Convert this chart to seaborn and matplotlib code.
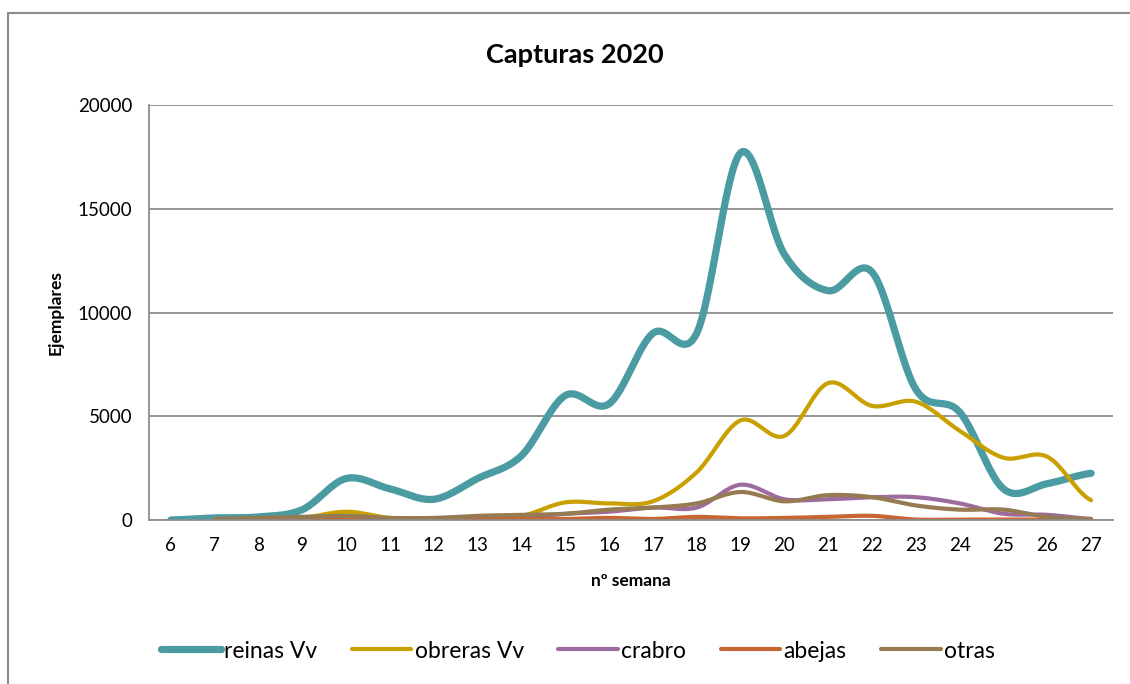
import numpy as np
import pandas as pd
import matplotlib
matplotlib.use('Agg')
import matplotlib.pyplot as plt
import seaborn as sns
from matplotlib.patches import Rectangle

# Data (week number -> captures)
semanas = list(range(6, 28))
reinas = [0, 100, 150, 500, 2000, 1500, 1000, 2000, 3100, 6000, 5600, 9000,
          9000, 17700, 12800, 11050, 11950, 6300, 5200, 1500, 1750, 2250]
obreras = [np.nan, 0, 50, 100, 400, 100, 80, 150, 200, 850, 800, 900,
           2300, 4800, 4050, 6600, 5500, 5700, 4300, 3000, 3050, 950]
crabro = [np.nan, 0, 0, 20, 50, 50, 50, 80, 150, 300, 400, 600,
          600, 1700, 1000, 1000, 1100, 1100, 800, 300, 250, 50]
abejas = [np.nan, 0, 0, 0, 30, 30, 30, 50, 50, 50, 100, 50,
          150, 80, 100, 150, 200, 20, 20, 20, 20, 20]
otras = [np.nan, 50, 100, 150, 200, 100, 100, 200, 250, 300, 500, 600,
         800, 1350, 900, 1200, 1100, 700, 500, 500, 150, 50]

series = {'reinas Vv': reinas, 'obreras Vv': obreras, 'crabro': crabro,
          'abejas': abejas, 'otras': otras}
colores = {'reinas Vv': '#4a9ba2', 'obreras Vv': '#c9a000', 'crabro': '#9e6b9e',
           'abejas': '#c86633', 'otras': '#957a52'}
anchos = {'reinas Vv': 5.2, 'obreras Vv': 3.0, 'crabro': 3.0, 'abejas': 3.0, 'otras': 3.0}


def suavizar(x, y, n=20):
    # Catmull-Rom curve through the points (like Excel's smoothed line)
    x = np.asarray(x, float)
    y = np.asarray(y, float)
    ok = ~np.isnan(y)
    x, y = x[ok], y[ok]
    px = np.concatenate([[2 * x[0] - x[1]], x, [2 * x[-1] - x[-2]]])
    py = np.concatenate([[y[0]], y, [y[-1]]])
    xs, ys = [], []
    t = np.linspace(0, 1, n, endpoint=False)
    for i in range(1, len(px) - 2):
        for p, out in ((px, xs), (py, ys)):
            p0, p1, p2, p3 = p[i - 1], p[i], p[i + 1], p[i + 2]
            out.extend(0.5 * ((2 * p1) + (-p0 + p2) * t
                              + (2 * p0 - 5 * p1 + 4 * p2 - p3) * t ** 2
                              + (-p0 + 3 * p1 - 3 * p2 + p3) * t ** 3))
    xs.append(x[-1])
    ys.append(y[-1])
    return np.array(xs), np.array(ys)


filas = []
for nombre, vals in series.items():
    xs, ys = suavizar(semanas, vals)
    filas.append(pd.DataFrame({'semana': xs, 'valor': ys, 'serie': nombre}))
df = pd.concat(filas, ignore_index=True)

sns.set_style('white')
plt.rcParams['font.family'] = ['Lato', 'DejaVu Sans']
plt.rcParams['text.color'] = 'black'
plt.rcParams['xtick.color'] = 'black'
plt.rcParams['ytick.color'] = 'black'
plt.rcParams['axes.labelcolor'] = 'black'

fig = plt.figure(figsize=(11.3, 6.84), dpi=100)
ax = fig.add_axes([149 / 1130, 1 - 520 / 684, (1113 - 149) / 1130, (520 - 105) / 684])

for nombre in series:
    sns.lineplot(data=df[df['serie'] == nombre], x='semana', y='valor', ax=ax,
                 color=colores[nombre], linewidth=anchos[nombre], label=nombre,
                 solid_capstyle='round', sort=False, estimator=None)

ax.set_xlim(semanas[0] - 0.5, semanas[-1] + 0.5)
ax.set_ylim(0, 20000)
ax.set_xticks(semanas)
ax.set_xticklabels([str(s) for s in semanas])
ax.set_yticks([0, 5000, 10000, 15000, 20000])
ax.tick_params(axis='both', labelsize=13.5, length=0, pad=12)
ax.grid(axis='y', color='#8c8c8c', linewidth=1.3)
ax.set_axisbelow(True)
for s in ['top', 'right']:
    ax.spines[s].set_visible(False)
for s in ['left', 'bottom']:
    ax.spines[s].set_color('#8c8c8c')
    ax.spines[s].set_linewidth(1.3)

ax.set_xlabel('nº semana', fontsize=12.5, fontweight='bold', labelpad=14)
ax.set_ylabel('Ejemplares', fontsize=12.5, fontweight='bold', labelpad=10)
fig.text(575 / 1130, 1 - 55 / 684, 'Capturas 2020', ha='center', va='center',
         fontsize=19.5, fontweight='bold')

handles, labels = ax.get_legend_handles_labels()
ax.get_legend().remove()
leg = fig.legend(handles, labels, loc='center', bbox_to_anchor=(578 / 1130, 1 - 651 / 684),
                 ncol=5, frameon=False, fontsize=16.5, handlelength=2.6,
                 handletextpad=0.15, columnspacing=1.5)

# outer chart border
fig.patches.append(Rectangle((8 / 1130, -0.1), 1.2, 0.1 + (684 - 13) / 684,
                             transform=fig.transFigure, fill=False,
                             edgecolor='#8c8c8c', linewidth=1.5))

fig.savefig('out.png', dpi=100)
